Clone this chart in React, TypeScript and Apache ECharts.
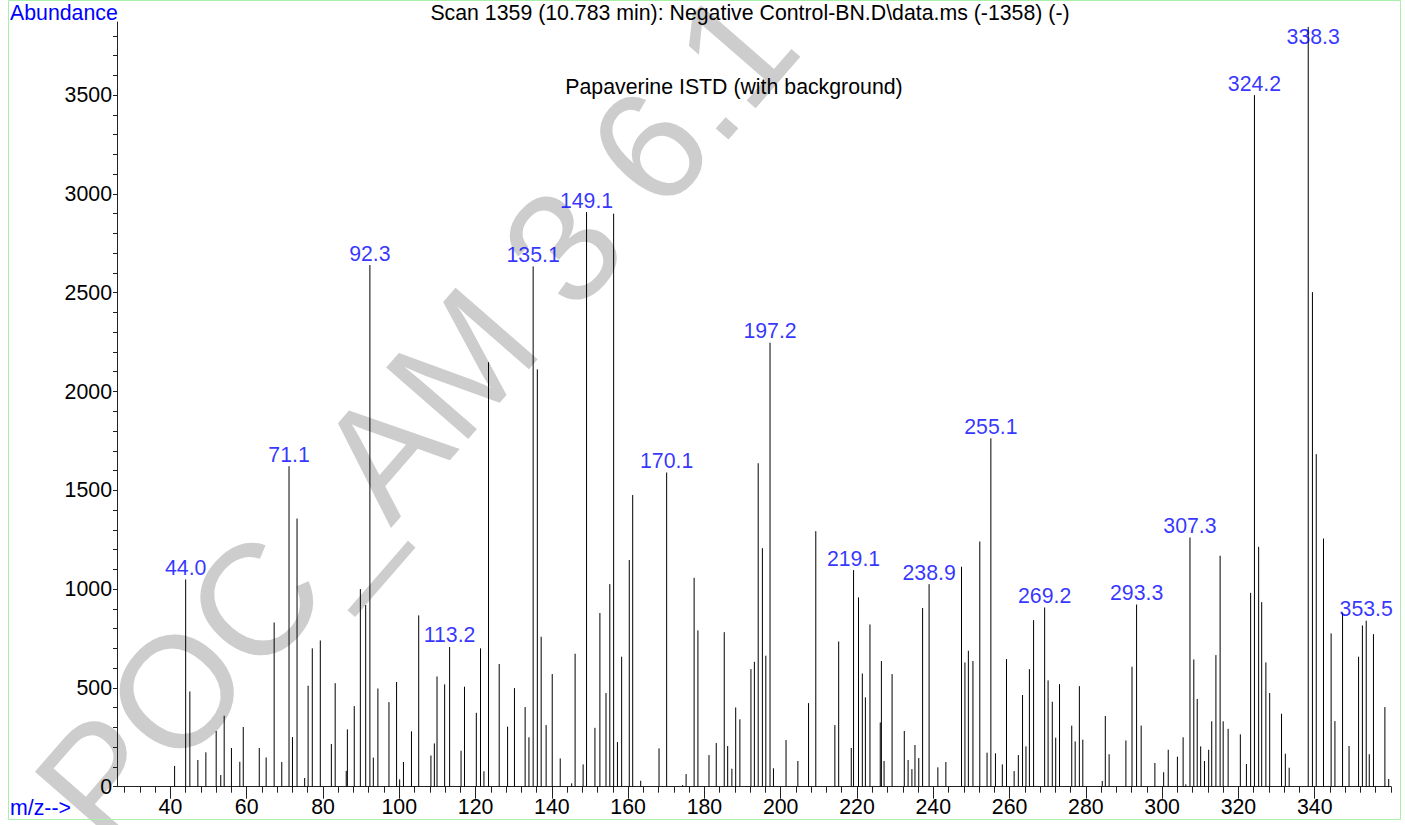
import React, { useEffect, useRef } from "react";
import * as echarts from "echarts";

// ---- data ----
const peakMz = [
  41.1, 44.0, 45.1, 47.2, 49.3, 52.0, 53.2, 54.1, 56.0, 58.2, 59.1, 63.3, 65.1, 67.2, 69.2, 71.1, 72.0, 73.2,
  75.2, 76.1, 77.2, 79.3, 82.2, 83.2, 86.1, 86.4, 88.2, 89.8, 91.2, 92.3, 93.2, 94.4, 97.3, 99.3, 100.1, 101.1,
  103.2, 105.1, 108.3, 109.2, 109.9, 111.9, 113.2, 116.2, 117.1, 120.2, 121.3, 122.2, 123.4, 126.2, 128.4,
  130.2, 133.0, 134.0, 135.1, 136.2, 137.2, 138.5, 140.1, 142.2, 145.2, 146.1, 148.2, 149.1, 151.3, 152.6,
  154.2, 155.2, 156.2, 157.2, 158.3, 160.3, 161.2, 163.3, 168.1, 170.1, 174.3, 175.2, 177.3, 178.3, 181.2,
  183.1, 185.2, 186.1, 187.2, 188.2, 189.3, 192.2, 193.1, 194.1, 195.2, 196.1, 197.2, 198.1, 201.4, 204.5,
  207.3, 209.2, 214.2, 215.2, 218.5, 219.1, 220.4, 221.4, 222.2, 223.4, 226.1, 226.4, 227.1, 229.2, 232.4,
  233.4, 234.4, 235.2, 236.2, 237.2, 238.9, 241.2, 243.3, 247.4, 248.3, 249.2, 250.4, 252.2, 254.1, 255.1,
  256.3, 258.1, 259.2, 261.2, 262.3, 263.4, 264.3, 265.2, 266.3, 269.2, 270.1, 271.2, 272.1, 273.1, 276.3,
  277.2, 278.3, 279.2, 284.3, 285.1, 286.1, 290.5, 292.1, 293.3, 294.5, 298.1, 300.4, 301.6, 304.0, 305.5,
  306.2, 307.3, 308.3, 309.2, 310.1, 311.1, 312.2, 313.0, 314.1, 315.2, 316.0, 317.3, 320.5, 322.1, 323.2,
  324.2, 325.3, 326.1, 327.2, 328.2, 331.3, 332.3, 333.3, 338.3, 339.4, 340.4, 342.3, 344.3, 345.3, 347.3,
  349.0, 351.5, 352.5, 353.5, 354.3, 355.4, 358.4, 359.4,
];
const peakAbundance = [
  105, 1049, 482, 135, 174, 282, 59, 359, 196, 126, 302, 196, 148, 831, 125, 1622, 251, 1357,
  44, 511, 700, 740, 216, 524, 80, 290, 408, 1000, 919, 2640, 147, 497, 428, 530, 37, 125,
  280, 867, 158, 219, 558, 518, 707, 182, 506, 374, 700, 78, 2148, 621, 304,
  499, 403, 250, 2633, 2112, 759, 312, 570, 143, 17, 673, 113, 2908, 298, 879,
  474, 1025, 2900, 226, 658, 1147, 1476, 30, 194, 1590, 8, 64, 1057, 791, 160,
  221, 782, 206, 91, 401, 341, 595, 632, 1637, 1207, 663, 2247, 93, 236, 130,
  423, 1293, 312, 735, 196, 1096, 958, 573, 452, 821, 325, 636, 130, 570, 282,
  135, 89, 211, 145, 904, 1025, 98, 125, 1113, 629, 688, 636, 1241, 172, 1763,
  169, 113, 646, 79, 160, 464, 204, 595, 843, 907, 538, 430, 248, 519, 309,
  229, 509, 238, 29, 358, 164, 234, 607, 922, 309, 120, 73, 187, 152, 250,
  12, 1261, 644, 444, 204, 130, 187, 331, 666, 1169, 331, 293, 265, 115, 981,
  3500, 1214, 934, 629, 474, 369, 167, 96, 3845, 2503, 1683, 1256, 776, 332, 880,
  206, 658, 816, 840, 164, 772, 403, 39,
];
const labeledMz = [
  44.0, 71.1, 92.3, 113.2, 135.1, 149.1, 170.1, 197.2, 219.1, 238.9, 255.1, 269.2, 293.3, 307.3, 324.2, 338.3, 353.5,
];
const xLabelTicks = [40, 60, 80, 100, 120, 140, 160, 180, 200, 220, 240, 260, 280, 300, 320, 340];
const xMinorTicks = [
  28, 32, 36, 40, 44, 48, 52, 56, 60, 64, 68, 72, 76, 80, 84, 88, 92, 96, 100, 104, 108, 112, 116, 120, 124, 128,
  132, 136, 140, 144, 148, 152, 156, 160, 164, 168, 172, 176, 180, 184, 188, 192, 196, 200, 204, 208, 212, 216,
  220, 224, 228, 232, 236, 240, 244, 248, 252, 256, 260, 264, 268, 272, 276, 280, 284, 288, 292, 296, 300, 304,
  308, 312, 316, 320, 324, 328, 332, 336, 340, 344, 348, 352, 356, 360,
];
const yLabelTicks = [0, 500, 1000, 1500, 2000, 2500, 3000, 3500];
const yMinorTicks = [
  0, 100, 200, 300, 400, 500, 600, 700, 800, 900, 1000, 1100, 1200, 1300, 1400, 1500, 1600, 1700, 1800, 1900,
  2000, 2100, 2200, 2300, 2400, 2500, 2600, 2700, 2800, 2900, 3000, 3100, 3200, 3300, 3400, 3500, 3600, 3700, 3800,
];
const titleText = "Scan 1359 (10.783 min): Negative Control-BN.D\\data.ms (-1358) (-)";
const subtitleText = "Papaverine ISTD (with background)";
const yAxisName = "Abundance";
const xAxisName = "m/z-->";
const watermarkText = "POC_AM 3 6.1";

const FONT = "'Liberation Sans', Arial, Helvetica, sans-serif";
const FS = 21.3;

export default function App() {
  const ref = useRef<HTMLDivElement>(null);

  useEffect(() => {
    if (!ref.current) return;
    const chart = echarts.init(ref.current, undefined, { renderer: "svg" });

    const peaks = peakMz.map((m, i) => [m, peakAbundance[i]]);
    const labelData = labeledMz.map((m) => {
      const idx = peakMz.indexOf(m);
      const v = peakAbundance[idx];
      const item: any = { value: [m, v] };
      if (v > 3700) {
        item.label = { position: "inside", offset: [5, 10] };
      }
      return item;
    });

    const axisColor = "#222";

    const option: any = {
      animation: false,
      backgroundColor: "#ffffff",
      grid: { left: 117, right: 14, top: 22, bottom: 38.3, containLabel: false },
      xAxis: [
        {
          type: "value",
          min: 26,
          max: 360,
          position: "bottom",
          axisLine: { show: true, onZero: false, lineStyle: { color: axisColor, width: 1 } },
          axisTick: { show: true, customValues: xLabelTicks, length: 12, lineStyle: { color: axisColor } },
          axisLabel: {
            customValues: xLabelTicks,
            margin: 10,
            fontSize: FS,
            color: "#000",
            fontFamily: FONT,
            formatter: (v: number) => String(v),
          },
          splitLine: { show: false },
        },
        {
          type: "value",
          min: 26,
          max: 360,
          position: "bottom",
          axisLine: { show: false, onZero: false },
          axisTick: { show: true, customValues: xMinorTicks, length: 6, lineStyle: { color: axisColor } },
          axisLabel: { show: false },
          splitLine: { show: false },
        },
      ],
      yAxis: {
        type: "value",
        min: 0,
        max: 3870,
        axisLine: { show: true, lineStyle: { color: axisColor, width: 1 } },
        axisTick: { show: true, customValues: yMinorTicks, length: 4, lineStyle: { color: axisColor } },
        axisLabel: {
          customValues: yLabelTicks,
          margin: 5,
          fontSize: FS,
          color: "#000",
          fontFamily: FONT,
          formatter: (v: number) => String(v),
        },
        splitLine: { show: false },
      },
      graphic: [
        {
          type: "text",
          z: -10,
          x: 67,
          y: 817,
          rotation: (49 * Math.PI) / 180,
          style: {
            text: watermarkText,
            fontSize: 158,
            fontFamily: FONT,
            fill: "#cdcdcd",
            align: "left",
            verticalAlign: "middle",
          },
        },
        {
          type: "rect",
          shape: { x: 8.5, y: 0.5, width: 1392, height: 819 },
          style: { fill: "none", stroke: "#a8f0a8", lineWidth: 1 },
        },
        {
          type: "text",
          x: 10,
          y: 13,
          style: { text: yAxisName, fontSize: FS, fontFamily: FONT, fill: "#0000ff", align: "left", verticalAlign: "middle" },
        },
        {
          type: "text",
          x: 10,
          y: 808,
          style: { text: xAxisName, fontSize: FS, fontFamily: FONT, fill: "#0000ff", align: "left", verticalAlign: "middle" },
        },
        {
          type: "text",
          x: 750,
          y: 13,
          style: { text: titleText, fontSize: FS, fontFamily: FONT, fill: "#000", align: "center", verticalAlign: "middle" },
        },
        {
          type: "text",
          x: 734,
          y: 87,
          style: { text: subtitleText, fontSize: FS, fontFamily: FONT, fill: "#000", align: "center", verticalAlign: "middle" },
        },
      ],
      series: [
        {
          type: "custom",
          xAxisIndex: 0,
          yAxisIndex: 0,
          clip: false,
          encode: { x: 0, y: 1 },
          data: peaks,
          renderItem: (params: any, api: any) => {
            const x = api.value(0);
            const y = api.value(1);
            const p0 = api.coord([x, 0]);
            const p1 = api.coord([x, y]);
            return {
              type: "line",
              shape: { x1: p0[0], y1: p0[1], x2: p0[0], y2: p1[1] },
              style: { stroke: "#000", lineWidth: 1 },
            };
          },
        },
        {
          type: "scatter",
          xAxisIndex: 0,
          yAxisIndex: 0,
          symbolSize: 0,
          silent: true,
          data: labelData,
          label: {
            show: true,
            position: "top",
            distance: 1,
            color: "#0000ff",
            fontSize: FS,
            fontFamily: FONT,
            formatter: (p: any) => Number(p.value[0]).toFixed(1),
          },
          z: 5,
        },
      ],
    };

    chart.setOption(option);
    return () => {
      chart.dispose();
    };
  }, []);

  return (
    <div
      ref={ref}
      style={{ position: "fixed", left: 0, top: 0, width: 1405, height: 825, background: "#fff" }}
    />
  );
}
